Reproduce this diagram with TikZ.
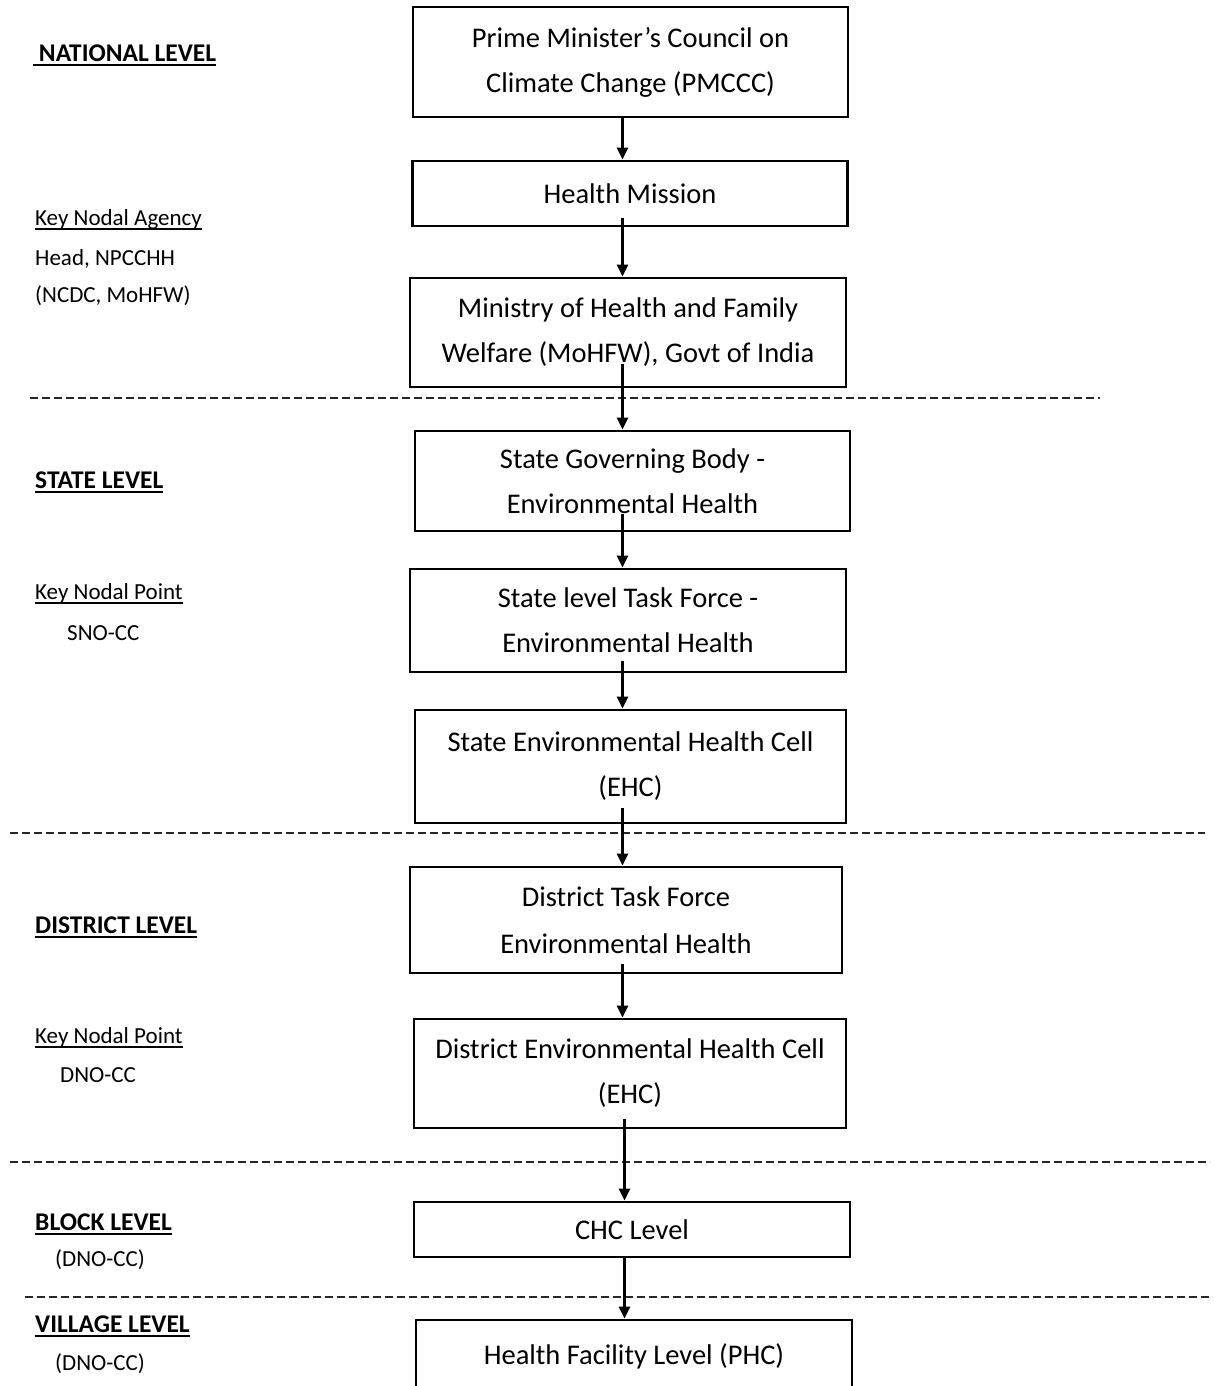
\documentclass[tikz,border=0pt]{standalone}
\usepackage{fontspec}
\setmainfont{Carlito}
\usetikzlibrary{arrows.meta}
\newcommand{\myul}[1]{\setbox0\hbox{#1}\rlap{\rule[-4.5pt]{\wd0}{2pt}}\box0}
\begin{document}
\begin{tikzpicture}[x=1pt,y=-1pt,
  box/.style={draw=black,line width=2.8pt,inner sep=0pt,align=center,
    font=\fontsize{28.5}{45}\selectfont},
  arr/.style={line width=2.8pt,-{Triangle[length=12pt,width=11pt]}},
  sep/.style={line width=2.2pt,dash pattern=on 8pt off 4pt,black!85},
  head/.style={anchor=base west,inner sep=0pt,font=\bfseries\fontsize{25.5}{30}\selectfont},
  lab/.style={anchor=base west,inner sep=0pt,font=\fontsize{23}{27}\selectfont}]
\useasboundingbox (0,0) rectangle (1215,1386);
\clip (0,0) rectangle (1215,1386);
% boxes
\node[box,minimum width=435pt,minimum height=110pt] (pm) at (630.5,62) {Prime Minister's Council on\\Climate Change (PMCCC)};
\node[box,minimum width=435pt,minimum height=65pt] (hm) at (630,193.5) {Health Mission};
\node[box,minimum width=436pt,minimum height=109pt] (mo) at (628,332.5) {Ministry of Health and Family\\Welfare (MoHFW), Govt of India};
\node[box,minimum width=435pt,minimum height=100pt] (sg) at (632.5,481) {State Governing Body -\\Environmental Health};
\node[box,minimum width=436pt,minimum height=103pt] (tf) at (628,620.5) {State level Task Force -\\Environmental Health};
\node[box,minimum width=431pt,minimum height=113pt] (eh) at (630.5,766.5) {State Environmental Health Cell\\(EHC)};
\node[box,minimum width=432pt,minimum height=106pt,font=\fontsize{28.5}{47}\selectfont] (dt) at (626,920) {District Task Force\\Environmental Health};
\node[box,minimum width=432pt,minimum height=109pt] (de) at (630,1073.5) {District Environmental Health Cell\\(EHC)};
\node[box,minimum width=436pt,minimum height=55pt] (ch) at (632,1229.5) {CHC Level};
\node[box,minimum width=436pt,minimum height=72pt] (ph) at (634,1356) {Health Facility Level (PHC)};
% separators
\draw[sep] (30,398) -- (1100,398);
\draw[sep] (10,833) -- (1205,833);
\draw[sep] (10,1162) -- (1210,1162);
\draw[sep] (25,1297) -- (1210,1297);
% arrow axis
\coordinate (ax) at (622.5,0);
\coordinate (bx) at (624.5,0);
\draw[arr] (pm.south -| ax) -- (hm.north -| ax);
\draw[arr,shorten <=-9pt] (hm.south -| ax) -- (mo.north -| ax);
\draw[arr,shorten <=-24pt] (mo.south -| ax) -- (sg.north -| ax);
\draw[arr,shorten <=-18pt] (sg.south -| ax) -- (tf.north -| ax);
\draw[arr,shorten <=-12pt] (tf.south -| ax) -- (eh.north -| ax);
\draw[arr,shorten <=-16pt] (eh.south -| ax) -- (dt.north -| ax);
\draw[arr,shorten <=-10pt] (dt.south -| ax) -- (de.north -| ax);
\draw[arr,shorten <=-10pt] (de.south -| bx) -- (ch.north -| bx);
\draw[arr] (ch.south -| bx) -- (ph.north -| bx);
% left labels
\node[head] (nl) at (33,62) {\myul{\ NATIONAL LEVEL}};
\node[lab] (kna) at (35,225) {\myul{Key Nodal Agency}};
\node[lab] (hd) at (35,265) {Head, NPCCHH};
\node[lab] (nc) at (35,302) {(NCDC, MoHFW)};
\node[head] (sl) at (35,488) {\myul{STATE LEVEL}};
\node[lab] (knp1) at (35,599) {\myul{Key Nodal Point}};
\node[lab] (sno) at (67,640) {SNO-CC};
\node[head] (dl) at (35,933) {\myul{DISTRICT LEVEL}};
\node[lab] (knp2) at (35,1043) {\myul{Key Nodal Point}};
\node[lab] (dno) at (60,1082) {DNO-CC};
\node[head] (bl) at (35,1230) {\myul{BLOCK LEVEL}};
\node[lab] (bd) at (55,1266) {(DNO-CC)};
\node[head] (vl) at (35,1332) {\myul{VILLAGE LEVEL}};
\node[lab] (vd) at (55,1370) {(DNO-CC)};
\end{tikzpicture}
\end{document}
